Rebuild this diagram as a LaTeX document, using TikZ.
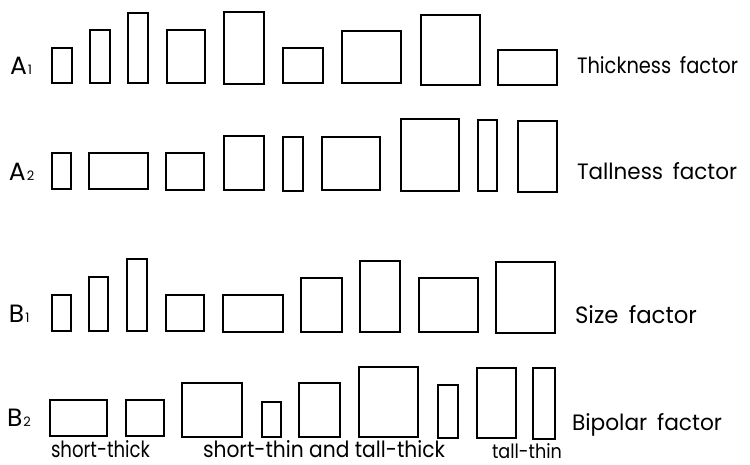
\documentclass[tikz,border=0pt]{standalone}
\usepackage{fontspec}
\setmainfont{Poppins}
\usepackage{graphicx}
\tikzset{
  bx/.style={draw=black,line width=1.1pt,inner sep=0pt,outer sep=0pt,rectangle},
  txt/.style={anchor=base west,inner sep=0pt,outer sep=0pt,font=\fontsize{20}{24}\selectfont},
  lbl/.style={anchor=base west,inner sep=0pt,outer sep=0pt,font=\fontsize{25}{28}\selectfont}
}
\newcommand\bx[5]{\node[bx,minimum width={(#4-#2)*1pt},minimum height={(#5-#3)*1pt}] (#1) at ({(#2+#4)/2},{(#3+#5)/2}) {};}
\newcommand\tx[6]{\node[txt] (#1) at (#2,#3) {\resizebox{#4pt}{#5pt}{#6}};}
\newcommand\lb[4]{\node[lbl] (#1) at (#2,#3) {#4};}
\newcommand\sub[1]{\kern0.04em{\fontsize{13}{15}\selectfont #1}}
\newcommand\gap{\hspace{0.45em}}
\begin{document}
\begin{tikzpicture}[x=1pt,y=-1pt]
\useasboundingbox (0,0) rectangle (750,465);
% Row A1
\bx{a1}{52}{48}{72}{83}
\bx{a2}{90}{30}{110}{83}
\bx{a3}{128}{13}{148}{83}
\bx{a4}{167}{30}{205}{83}
\bx{a5}{224}{12}{264}{84}
\bx{a6}{283}{48}{323}{83}
\bx{a7}{342}{31}{401}{83}
\bx{a8}{421}{15}{480}{85}
\bx{a9}{498}{50}{557}{85}
% Row A2
\bx{b1}{52}{153}{71}{189}
\bx{b2}{89}{153}{148}{189}
\bx{b3}{166}{153}{204}{190}
\bx{b4}{224}{136}{264}{190}
\bx{b5}{283}{137}{303}{191}
\bx{b6}{322}{137}{380}{190}
\bx{b7}{401}{119}{459}{191}
\bx{b8}{478}{120}{497}{191}
\bx{b9}{518}{121}{557}{192}
% Row B1
\bx{c1}{52}{295}{71}{331}
\bx{c2}{89}{277}{108}{331}
\bx{c3}{127}{259}{147}{331}
\bx{c4}{166}{295}{204}{331}
\bx{c5}{223}{295}{283}{332}
\bx{c6}{301}{278}{342}{332}
\bx{c7}{360}{261}{400}{332}
\bx{c8}{419}{278}{478}{332}
\bx{c9}{496}{262}{555}{333}
% Row B2
\bx{d1}{50}{400}{107}{436}
\bx{d2}{126}{400}{164}{436}
\bx{d3}{182}{383}{242}{437}
\bx{d4}{262}{402}{281}{437}
\bx{d5}{299}{383}{340}{437}
\bx{d6}{359}{367}{418}{437}
\bx{d7}{438}{385}{458}{438}
\bx{d8}{477}{368}{516}{438}
\bx{d9}{533}{368}{555}{439}
% Labels
\lb{la1}{10}{75}{A\sub{1}}
\tx{ra1}{577}{74}{161}{17}{Thickness\gap factor}
\lb{la2}{9}{181}{A\sub{2}}
\tx{ra2}{577}{180}{160}{17}{Tallness\gap factor}
\lb{lb1}{9}{322}{B\sub{1}}
\tx{rb1}{575}{323}{122}{18}{Size\gap factor}
\lb{lb2}{7}{426}{B\sub{2}}
\tx{rb2}{572}{430}{150}{17}{Bipolar\gap factor}
\tx{s1}{51}{457}{99}{17}{short-thick}
\tx{s2}{203}{457}{242}{17}{short-thin and tall-thick}
\tx{s3}{492}{458}{70}{15}{tall-thin}
\end{tikzpicture}
\end{document}
